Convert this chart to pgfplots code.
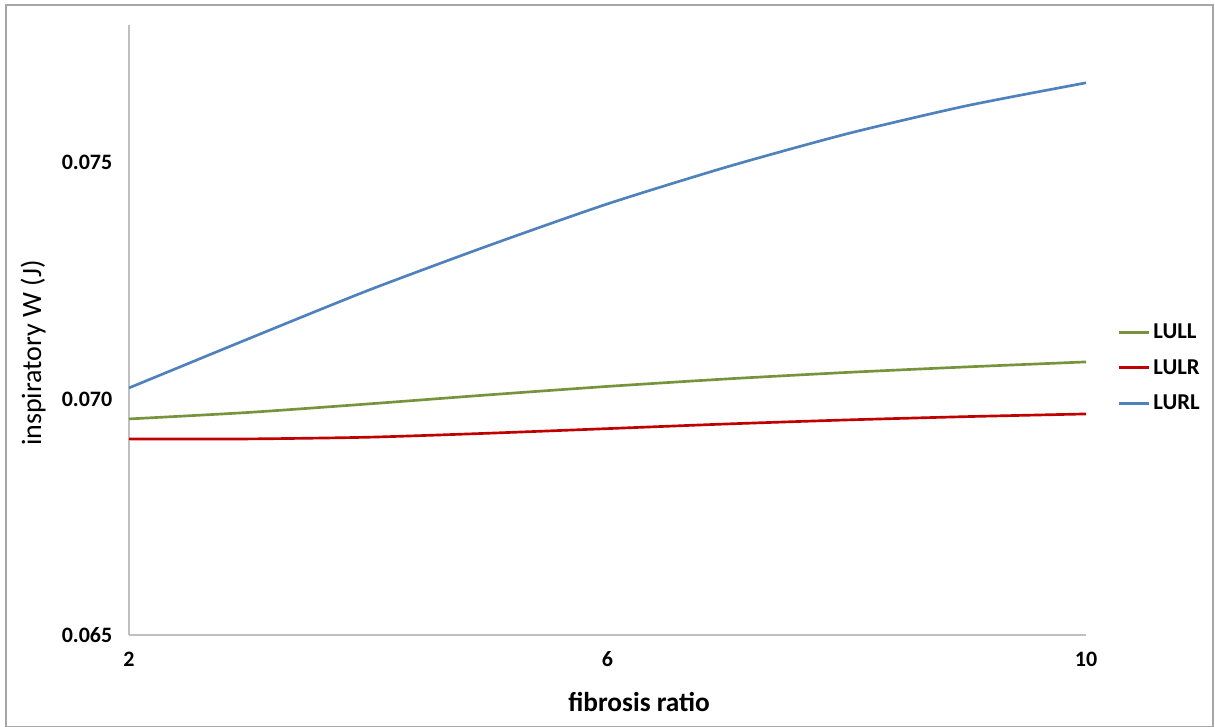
\documentclass[border=0pt]{standalone}
\usepackage{pgfplots}
\pgfplotsset{compat=1.18}
\usepackage{fontspec}
\setmainfont{Carlito}
\definecolor{cgreen}{HTML}{77933C}
\definecolor{cred}{HTML}{C00000}
\definecolor{cblue}{HTML}{4F81BD}
\definecolor{caxis}{HTML}{BFBFBF}
\definecolor{cframe}{HTML}{A6A6A6}
\begin{document}
\begin{tikzpicture}
\path[use as bounding box] (0pt,0pt) rectangle (911.25pt,545.25pt);
\draw[cframe, line width=1.1pt] (4.5pt,0.5pt) rectangle (909.75pt,541.5pt);
\begin{axis}[
  at={(96.75pt,69pt)}, anchor=south west,
  scale only axis, width=717.75pt, height=457.5pt,
  xmin=2, xmax=10, ymin=0.065, ymax=0.07792,
  axis x line=bottom, axis y line=left,
  axis line style={-, caxis, line width=0.9pt},
  xtick={2,6,10}, ytick={0.065,0.070,0.075},
  major tick length=0pt,
  /pgf/number format/assume math mode=true,
  yticklabel style={/pgf/number format/fixed, /pgf/number format/fixed zerofill, /pgf/number format/precision=3, xshift=-9pt},
  scaled y ticks=false,
  tick label style={font=\fontsize{16.5}{19}\selectfont\bfseries},
  xticklabel style={yshift=-9pt},
  xlabel={fibrosis ratio},
  ylabel={inspiratory W (J)},
  xlabel style={font=\fontsize{20.5}{24}\selectfont\bfseries, at={(axis description cs:0.533,-0.1098)}, anchor=center},
  ylabel style={font=\fontsize{21}{24}\selectfont, at={(axis description cs:-0.1003,0.462)}, anchor=center},
  legend style={draw=none, at={(1.033,0.438)}, anchor=west, font=\fontsize{17}{20}\selectfont\bfseries, row sep=10pt, inner sep=0pt},
  legend cell align=left,
  legend image code/.code={\draw[#1, line width=2.2pt] (0pt,0pt) -- (22.5pt,0pt);},
  every axis plot/.append style={line width=2pt, smooth, tension=0.4, no markers},
]
\addplot[cgreen] coordinates {(2,0.069576) (3,0.069714) (4,0.069894) (5,0.070085) (6,0.070265) (7,0.070424) (8,0.070561) (9,0.070678) (10,0.070784)};
\addlegendentry{LULL}
\addplot[cred] coordinates {(2,0.069153) (3,0.069153) (4,0.069189) (5,0.069273) (6,0.069371) (7,0.069470) (8,0.069555) (9,0.069625) (10,0.069682)};
\addlegendentry{LULR}
\addplot[cblue] coordinates {(2,0.070233) (3,0.071275) (4,0.072300) (5,0.073242) (6,0.074131) (7,0.074915) (8,0.075614) (9,0.076208) (10,0.076695)};
\addlegendentry{LURL}
\end{axis}
\end{tikzpicture}
\end{document}
